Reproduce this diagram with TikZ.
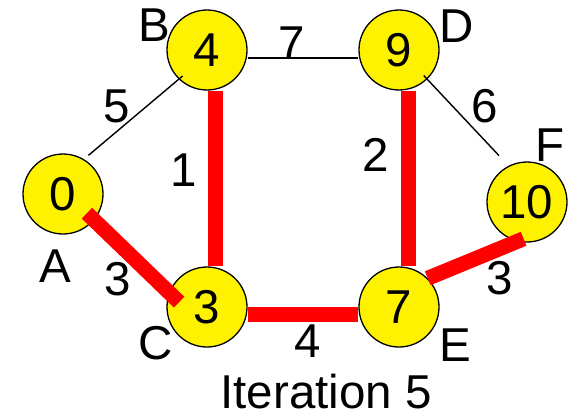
\documentclass[tikz,border=0pt]{standalone}
\usepackage{fontspec}
\setmainfont{Liberation Sans}
\usepackage{tikz}

\begin{document}
\begin{tikzpicture}[x=1pt,y=-1pt,
  every node/.style={inner sep=0pt,font=\fontsize{47.5}{50}\selectfont},
  vertex/.style={circle,draw=black,line width=1.3pt,fill=yellow,minimum size=80pt},
  edge/.style={draw=black,line width=1.4pt},
  tree/.style={draw=red,line width=15pt}]
\useasboundingbox (0,0) rectangle (570,420);
% vertices with distances:
\node[vertex] (A) at (63,194) {0};
\node[vertex] (B) at (207,50) {4};
\node[vertex] (C) at (207,307) {3};
\node[vertex] (D) at (399,50) {9};
\node[vertex] (E) at (399,307) {7};
\node[vertex] (F) at (527,202) {10};
% vertex names:
\node (nA) at (55,266) {A};
\node (nB) at (154,25) {B};
\node (nC) at (156,343) {C};
\node (nD) at (457,26) {D};
\node (nE) at (455,345) {E};
\node (nF) at (550,145) {F};
% plain edges:
\path[edge,shorten <=6pt,shorten >=-5pt] (A.59) -- (B.226);
\path[edge] ([yshift=-8pt]B.east) -- ([yshift=-8pt]D.west);
\path[edge,shorten <=-5pt,shorten >=14pt] (D.-46) -- (F.117);
% tree edges:
\path[tree,shorten <=-10pt,shorten >=-14pt] (A.-40) -- (C.159);
\path[tree] ([xshift=8pt]B.south) -- ([xshift=8pt]C.north);
\path[tree] ([yshift=-7pt]C.east) -- ([yshift=-7pt]E.west);
\path[tree] ([xshift=9pt]D.south) -- ([xshift=9pt]E.north);
\path[tree,shorten >=-7pt] (E.45) -- (F.256);
% weights:
\node (wAB) at (117,106) {5};
\node (wBD) at (292,43) {7};
\node (wDF) at (485,106) {6};
\node (wBC) at (184,170) {1};
\node (wDE) at (376,155) {2};
\node (wAC) at (118,279) {3};
\node (wCE) at (308,341) {4};
\node (wEF) at (500,278) {3};
% caption:
\node (title) at (326,392) {Iteration 5};
\end{tikzpicture}
\end{document}
